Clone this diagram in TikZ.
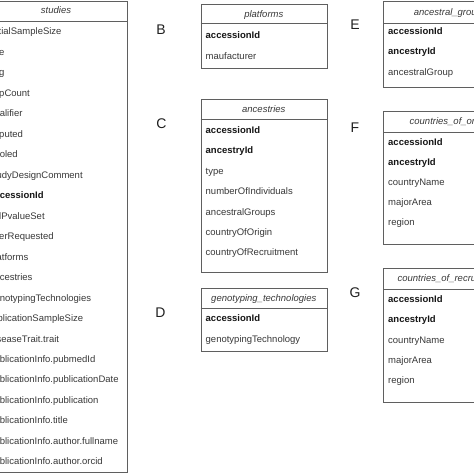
\documentclass[tikz,border=0pt]{standalone}
\usepackage{fontspec}
\setmainfont{Liberation Sans}
\definecolor{boxline}{HTML}{5F5F5F}
\definecolor{rowtext}{HTML}{383838}
\definecolor{keytext}{HTML}{151515}
\begin{document}
\begin{tikzpicture}[x=1pt,y=-1pt,
  tbl/.style={draw=boxline,line width=0.9pt,inner sep=0pt,anchor=north west},
  row/.style={anchor=west,inner sep=0pt,text height=7pt,text depth=2pt,font=\fontsize{9.5}{11}\selectfont,text=rowtext},
  key/.style={anchor=west,inner sep=0pt,text height=7pt,text depth=2pt,font=\fontsize{9.5}{11}\selectfont\bfseries,text=keytext},
  ttl/.style={inner sep=0pt,text height=7pt,text depth=2pt,font=\fontsize{9.5}{11}\selectfont\itshape,text=rowtext},
  lbl/.style={inner sep=0pt,font=\fontsize{14}{16}\selectfont,text=black!88}]
\useasboundingbox (0,0) rectangle (474,474);
\clip (0,0) rectangle (474,474);

% A: studies
\node[tbl,minimum width=142pt,minimum height=471.5pt] (studies) at (-15,0.5) {};
\draw[draw=boxline,line width=0.9pt] (-15,21) -- (127,21);
\node[ttl] (studiesT) at (56,11) {studies};
\foreach \t/\s [count=\i from 0] in {initialSampleSize/row,gxe/row,gxg/row,snpCount/row,qualifier/row,imputed/row,pooled/row,studyDesignComment/row,accessionId/key,fullPvalueSet/row,userRequested/row,platforms/row,ancestries/row,genotypingTechnologies/row,replicationSampleSize/row,diseaseTrait.trait/row,publicationInfo.pubmedId/row,publicationInfo.publicationDate/row,publicationInfo.publication/row,publicationInfo.title/row,publicationInfo.author.fullname/row,publicationInfo.author.orcid/row}
  \node[\s] (s\i) at (-11,{32.3+20.48*\i}) {\t};

% B: platforms
\node[lbl] (labB) at (161,29.5) {B};
\node[tbl,minimum width=126.3pt,minimum height=63.4pt] (platforms) at (200.7,4.3) {};
\draw[draw=boxline,line width=0.9pt] (200.7,23.3) -- (327,23.3);
\node[ttl] (platformsT) at (263.8,15) {platforms};
\node[key] (p1) at (205.5,35.7) {accessionId};
\node[row] (p2) at (205.5,56.7) {maufacturer};

% C: ancestries
\node[lbl] (labC) at (161.5,123.5) {C};
\node[tbl,minimum width=126.3pt,minimum height=173pt] (ancestries) at (200.7,99.3) {};
\draw[draw=boxline,line width=0.9pt] (200.7,119.3) -- (327,119.3);
\node[ttl] (ancestriesT) at (263.8,110) {ancestries};
\foreach \t/\s [count=\i from 0] in {accessionId/key,ancestryId/key,type/row,numberOfIndividuals/row,ancestralGroups/row,countryOfOrigin/row,countryOfRecruitment/row}
  \node[\s] (c\i) at (205.5,{131+20.4*\i}) {\t};

% D: genotyping_technologies
\node[lbl] (labD) at (160.5,312.7) {D};
\node[tbl,minimum width=126.3pt,minimum height=62.4pt] (genotyping) at (200.7,288.3) {};
\draw[draw=boxline,line width=0.9pt] (200.7,308.3) -- (327,308.3);
\node[ttl] (genotypingT) at (263.8,299.3) {genotyping\_technologies};
\node[key] (d1) at (205.5,319.3) {accessionId};
\node[row] (d2) at (205.5,340) {genotypingTechnology};

% E: ancestral_groups
\node[lbl] (labE) at (355,25) {E};
\node[tbl,minimum width=133pt,minimum height=86.8pt] (ancgroups) at (383.3,0.5) {};
\draw[draw=boxline,line width=0.9pt] (383.3,23.3) -- (516.3,23.3);
\node[ttl] (ancgroupsT) at (450.3,12.7) {ancestral\_groups};
\node[key] (e1) at (388,31.7) {accessionId};
\node[key] (e2) at (388,52.3) {ancestryId};
\node[row] (e3) at (388,72.5) {ancestralGroup};

% F: countries_of_origin
\node[lbl] (labF) at (355,127.7) {F};
\node[tbl,minimum width=133pt,minimum height=133pt] (origin) at (383.3,111) {};
\draw[draw=boxline,line width=0.9pt] (383.3,132.3) -- (516.3,132.3);
\node[ttl] (originT) at (449.8,122) {countries\_of\_origin};
\foreach \t/\s [count=\i from 0] in {accessionId/key,ancestryId/key,countryName/row,majorArea/row,region/row}
  \node[\s] (f\i) at (388,{142.5+20.2*\i}) {\t};

% G: countries_of_recruitment
\node[lbl] (labG) at (355,292.7) {G};
\node[tbl,minimum width=133pt,minimum height=133.4pt] (recruit) at (383.3,268.3) {};
\draw[draw=boxline,line width=0.9pt] (383.3,289) -- (516.3,289);
\node[ttl] (recruitT) at (449.8,279.3) {countries\_of\_recruitment};
\foreach \t/\s [count=\i from 0] in {accessionId/key,ancestryId/key,countryName/row,majorArea/row,region/row}
  \node[\s] (g\i) at (388,{300+20.25*\i}) {\t};
\end{tikzpicture}
\end{document}
